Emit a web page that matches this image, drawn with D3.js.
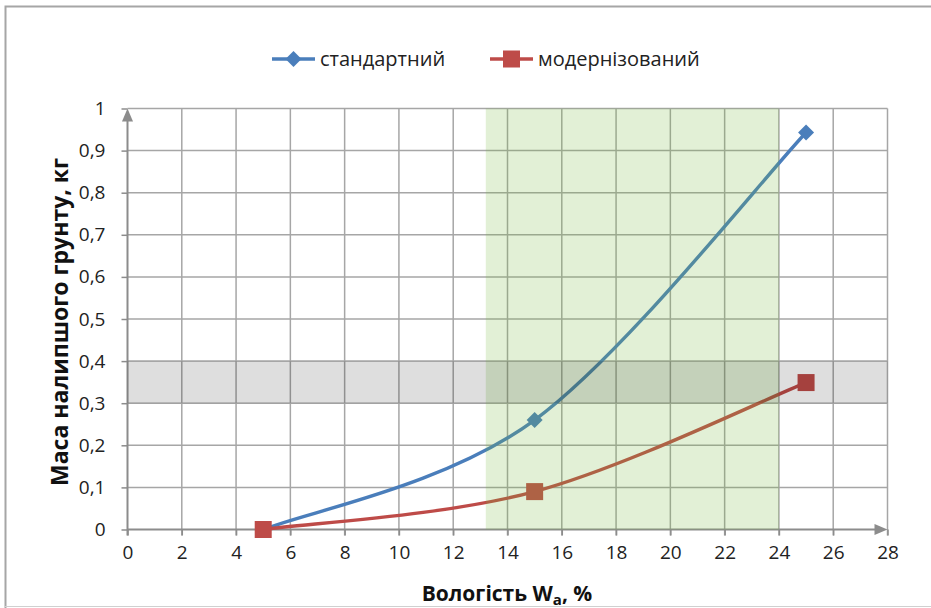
<!DOCTYPE html>
<html>
<head>
<meta charset="utf-8">
<script src="https://cdn.jsdelivr.net/npm/d3@7"></script>
<style>
  html, body { margin: 0; padding: 0; background: #fff; }
  svg { display: block; }
</style>
</head>
<body>
<svg id="chart" width="931" height="608"></svg>
<script>
// ---------- data ----------
const moisture = [5, 15, 25];
const standardMass = [0, 0.26, 0.943];
const modernMass = [0, 0.09, 0.349];
const seriesNames = ["стандартний", "модернізований"];
const xTicks = [0, 2, 4, 6, 8, 10, 12, 14, 16, 18, 20, 22, 24, 26, 28];
const yTicks = [0, 0.1, 0.2, 0.3, 0.4, 0.5, 0.6, 0.7, 0.8, 0.9, 1];
const greenZone = [13.2, 24];
const grayBand = [0.3, 0.4];

// ---------- layout ----------
const svg = d3.select("#chart");
const pLeft = 127.5, pRight = 887.5, pTop = 108.5, pBottom = 529.5;
const x = d3.scaleLinear().domain([0, 28]).range([pLeft, pRight]);
const y = d3.scaleLinear().domain([0, 1]).range([pBottom, pTop]);

const tickFont = "'Open Sans', sans-serif";
const blue = "#4a7ebb", red = "#be4b48";

// outer frame
svg.append("path")
  .attr("d", "M5.5,940 V6.5 H940")
  .attr("fill", "none").attr("stroke", "#a6a6a6").attr("stroke-width", 2);
svg.append("line").attr("x1", 5).attr("x2", 931).attr("y1", 606.5).attr("y2", 606.5)
  .attr("stroke", "#d0d0d0").attr("stroke-width", 1);

// gridlines
const grid = svg.append("g");
grid.selectAll("line.h").data(yTicks.filter(d => d > 0)).join("line")
  .attr("x1", x(0)).attr("x2", x(28))
  .attr("y1", d => y(d)).attr("y2", d => y(d))
  .attr("stroke", "#a6a6a6").attr("stroke-width", 1.5);
grid.selectAll("line.v").data(xTicks.filter(d => d > 0)).join("line")
  .attr("x1", d => x(d)).attr("x2", d => x(d))
  .attr("y1", y(1)).attr("y2", y(0) + 6)
  .attr("stroke", "#a6a6a6").attr("stroke-width", 1.5);

// axes
const xAxis = d3.axisBottom(x).tickValues(xTicks).tickSize(6).tickPadding(10).tickFormat(d3.format("d"));
const gx = svg.append("g").attr("transform", `translate(0,${y(0)})`).call(xAxis);
gx.select(".domain").remove();
gx.selectAll(".tick line").attr("stroke", "#8c8c8c").attr("stroke-width", 1.5);
gx.selectAll(".tick text").attr("font-family", tickFont).attr("font-size", 19).attr("fill", "#222");

const yFmt = d => d === 0 ? "0" : d === 1 ? "1" : d3.format(".1f")(d).replace(".", ",");
const yAxis = d3.axisLeft(y).tickValues(yTicks).tickSize(6).tickPadding(16).tickFormat(yFmt);
const gy = svg.append("g").attr("transform", `translate(${x(0)},0)`).call(yAxis);
gy.select(".domain").remove();
gy.selectAll(".tick line").attr("stroke", "#8c8c8c").attr("stroke-width", 1.5);
gy.selectAll(".tick text").attr("font-family", tickFont).attr("font-size", 19).attr("fill", "#222");

// axis lines with arrows
const axisCol = "#8c8c8c";
svg.append("line").attr("x1", x(0)).attr("x2", x(28) - 12).attr("y1", y(0)).attr("y2", y(0))
  .attr("stroke", axisCol).attr("stroke-width", 2);
svg.append("path")
  .attr("d", `M${x(28)},${y(0)} L${x(28) - 13},${y(0) - 5.5} L${x(28) - 13},${y(0) + 5.5} Z`)
  .attr("fill", axisCol);
svg.append("line").attr("x1", x(0)).attr("x2", x(0)).attr("y1", y(0) + 6).attr("y2", y(1) + 12)
  .attr("stroke", axisCol).attr("stroke-width", 2);
svg.append("path")
  .attr("d", `M${x(0)},${y(1)} L${x(0) - 5.5},${y(1) + 13} L${x(0) + 5.5},${y(1) + 13} Z`)
  .attr("fill", axisCol);

// Excel-like smoothing curve
function curveExcel(context) {
  let pts = [];
  return {
    areaStart() {}, areaEnd() {},
    lineStart() { pts = []; },
    point(px, py) { pts.push([+px, +py]); },
    lineEnd() {
      if (!pts.length) return;
      context.moveTo(pts[0][0], pts[0][1]);
      for (let i = 0; i < pts.length - 1; i++) {
        const p0 = pts[i - 1] || pts[i], p1 = pts[i], p2 = pts[i + 1], p3 = pts[i + 2] || pts[i + 1];
        const c1 = [p1[0] + (p2[0] - p0[0]) / 6, p1[1] + (p2[1] - p0[1]) / 6];
        const c2 = [p2[0] - (p3[0] - p1[0]) / 6, p2[1] - (p3[1] - p1[1]) / 6];
        context.bezierCurveTo(c1[0], c1[1], c2[0], c2[1], p2[0], p2[1]);
      }
    }
  };
}

const series = [
  { name: seriesNames[0], values: standardMass, color: blue, marker: "diamond" },
  { name: seriesNames[1], values: modernMass, color: red, marker: "square" }
];
const line = d3.line().x(d => x(d[0])).y(d => y(d[1])).curve(curveExcel);

series.forEach(s => {
  const pts = moisture.map((m, i) => [m, s.values[i]]);
  svg.append("path").datum(pts).attr("d", line)
    .attr("fill", "none").attr("stroke", s.color).attr("stroke-width", 3.4);
});
function drawMarker(g, type, cx, cy, color) {
  if (type === "diamond") {
    g.append("path").attr("d", `M${cx},${cy - 8} L${cx + 8},${cy} L${cx},${cy + 8} L${cx - 8},${cy} Z`).attr("fill", color);
  } else {
    g.append("rect").attr("x", cx - 8.5).attr("y", cy - 8.5).attr("width", 17).attr("height", 17).attr("fill", color);
  }
}
series.forEach(s => {
  const g = svg.append("g");
  moisture.forEach((m, i) => drawMarker(g, s.marker, x(m), y(s.values[i]), s.color));
});

// translucent zones on top
svg.append("rect")
  .attr("x", x(greenZone[0])).attr("width", x(greenZone[1]) - x(greenZone[0]))
  .attr("y", y(1)).attr("height", y(0) - y(1))
  .attr("fill", "rgb(118,185,62)").attr("fill-opacity", 0.21);
svg.append("rect")
  .attr("x", x(0)).attr("width", x(28) - x(0))
  .attr("y", y(grayBand[1])).attr("height", y(grayBand[0]) - y(grayBand[1]))
  .attr("fill", "#000").attr("fill-opacity", 0.13);

// legend
const legend = svg.append("g").attr("font-family", tickFont).attr("font-size", 20).attr("fill", "#222");
const legendItems = [{ x0: 272, s: series[0] }, { x0: 490, s: series[1] }];
legendItems.forEach(({ x0, s }) => {
  legend.append("line").attr("x1", x0).attr("x2", x0 + 43).attr("y1", 59).attr("y2", 59)
    .attr("stroke", s.color).attr("stroke-width", 3.4);
  drawMarker(legend, s.marker, x0 + 21.5, 59, s.color);
  legend.append("text").attr("x", x0 + 48).attr("y", 59).attr("dy", "0.35em").text(s.name);
});

// axis titles
svg.append("text")
  .attr("transform", `translate(68,${(pTop + pBottom) / 2 + 3}) rotate(-90)`)
  .attr("text-anchor", "middle").attr("font-family", tickFont).attr("font-weight", 700)
  .attr("font-size", 23).attr("fill", "#111")
  .text("Маса налипшого грунту, кг");

const xt = svg.append("text")
  .attr("x", 507).attr("y", 601)
  .attr("text-anchor", "middle").attr("font-family", tickFont).attr("font-weight", 700)
  .attr("font-size", 21).attr("fill", "#111");
xt.append("tspan").text("Вологість W");
xt.append("tspan").attr("font-size", 15).attr("dy", 4).text("a");
xt.append("tspan").attr("dy", -4).text(", %");
</script>
</body>
</html>
